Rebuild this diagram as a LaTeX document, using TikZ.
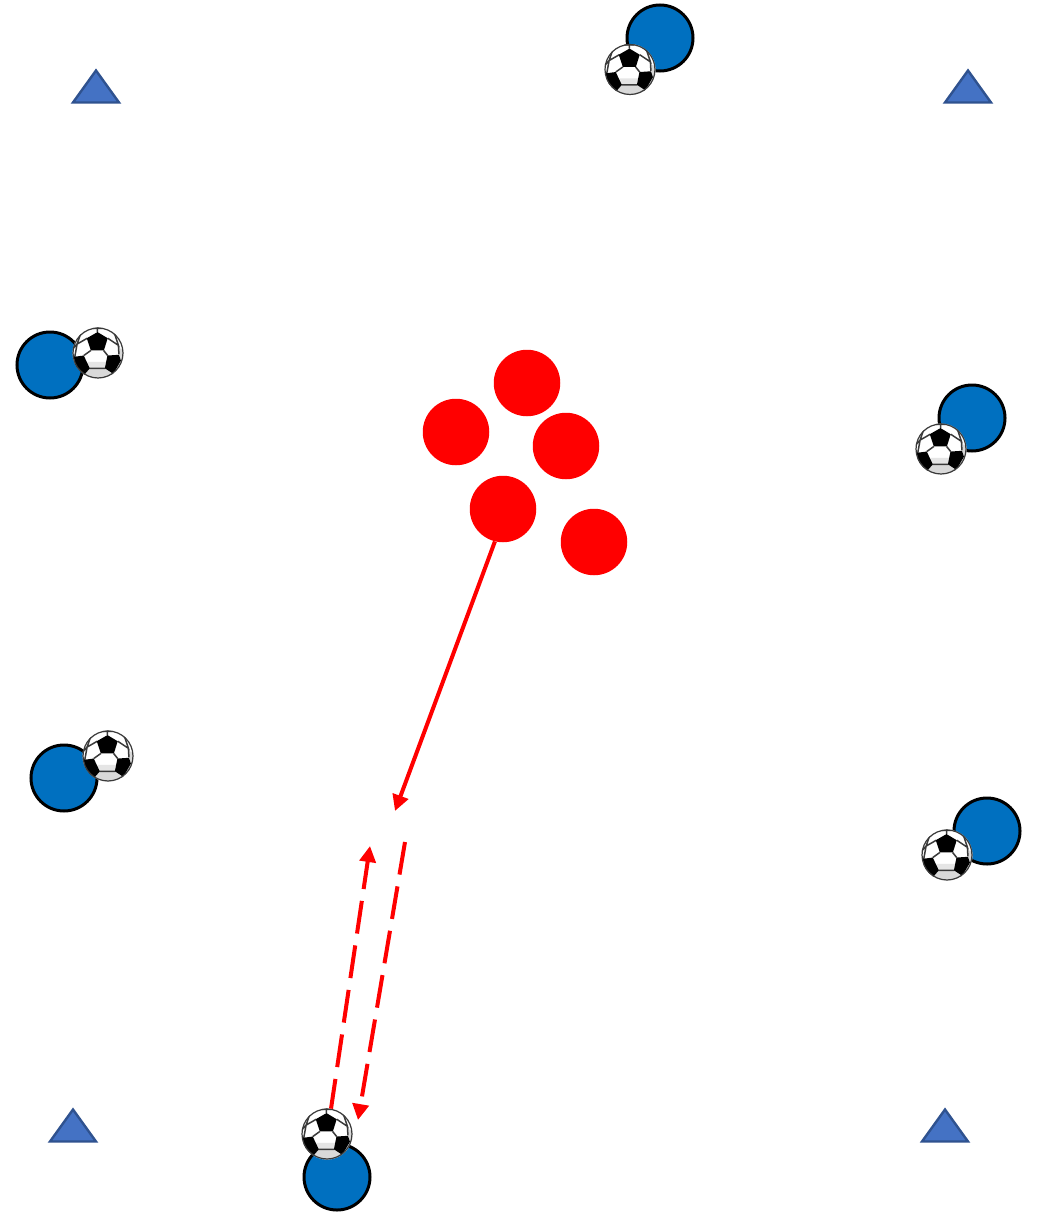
\documentclass[tikz,border=0pt]{standalone}
\usetikzlibrary{arrows.meta}
\definecolor{playerblue}{HTML}{0070C0}
\definecolor{conefill}{HTML}{4472C4}
\definecolor{coneline}{HTML}{2F528F}
\definecolor{ballgrey}{HTML}{D9D9D9}
\definecolor{ballline}{HTML}{3A3A3A}
\tikzset{
  player/.style={circle,draw=black,line width=3pt,fill=playerblue,minimum size=66pt,inner sep=0pt},
  defender/.style={circle,fill=red,minimum size=66.5pt,inner sep=0pt},
  ballspot/.style={circle,minimum size=51pt,inner sep=0pt},
  redarrow/.style={draw=red,line width=4pt,-{Triangle[length=16pt,width=16pt]}},
  reddash/.style={redarrow,dash pattern=on 33pt off 12pt},
  cone/.pic={
    \draw[fill=conefill,draw=coneline,line width=2.4pt,line join=miter]
      (-23,32) -- (0,0) -- (23,32) -- cycle;
  },
  ballpic/.pic={
    \begin{scope}[x=25.5pt,y=-25.5pt]
      \fill[white] (0,0) circle (1);
      \begin{scope}
        \clip (0,0) circle (1);
        \fill[ballgrey] (-0.32,0.6) -- (0.27,0.6) -- (0.58,0.84) -- (0.4,1.1) -- (-0.55,1.1) -- (-0.57,0.84) -- cycle;
        \fill[ballgrey] (0.82,0.05) -- (0.8,-0.2) -- (1.1,-0.1) -- (1.1,0.5) -- (0.62,0.85) -- (0.9,0.3) -- cycle;
        \fill[black!10] (-0.4,0.35) -- (0.32,0.35) -- (0.27,0.6) -- (-0.32,0.6) -- cycle;
        \draw[ballline,line width=1.5pt]
          (-0.02,-0.82) -- (-0.02,-1.05)
          (-0.42,-0.58) -- (-0.82,-0.35) -- (-0.65,-0.85)
          (-0.82,-0.35) -- (-1.05,-0.1)
          (-0.92,0.2) -- (-0.82,-0.35)
          (0.38,-0.58) -- (0.8,-0.3) -- (0.62,-0.85)
          (0.8,-0.3) -- (0.82,0.05)
          (-0.28,-0.1) -- (-0.56,0.1)
          (0.22,-0.1) -- (0.38,0.1)
          (-0.34,0.6) -- (0.29,0.6)
          (-0.57,0.84) -- (-0.5,1.05)
          (0.58,0.8) -- (0.5,1.0);
        \fill[black] (-0.02,-0.82) -- (0.38,-0.58) -- (0.23,-0.1) -- (-0.28,-0.1) -- (-0.44,-0.58) -- cycle;
        \fill[black] (-0.95,0.15) -- (-0.56,0.1) -- (-0.32,0.6) -- (-0.58,0.9) -- (-0.86,0.66) -- cycle;
        \fill[black] (0.37,0.1) -- (0.82,0.07) -- (0.9,0.3) -- (0.6,0.82) -- (0.27,0.6) -- cycle;
        \fill[black!80] (-0.3,-1.05) -- (0.27,-1.05) -- (0.16,-0.94) -- (-0.2,-0.94) -- cycle;
      \end{scope}
      \draw[ballline,line width=1.2pt] (0,0) circle (0.98);
    \end{scope}
  }
}
\newcommand{\placeball}[2]{%
  \node[ballspot] (#1) at (#2) {};
  \pic at (#2) {ballpic};
}
\begin{document}
\begin{tikzpicture}[x=1pt,y=-1pt]
\useasboundingbox (0,0) rectangle (1036,1212);

% cones
\pic (cone1) at (96,70.5) {cone};
\pic (cone2) at (968,70.5) {cone};
\pic (cone3) at (73,1109.5) {cone};
\pic (cone4) at (945,1109.5) {cone};

% defenders
\node[defender] (d1) at (527,383) {};
\node[defender] (d2) at (456,432) {};
\node[defender] (d3) at (566,446) {};
\node[defender] (d4) at (503,509) {};
\node[defender] (d5) at (594,542) {};

% players with balls
\node[player] (p1) at (660,38) {};
\placeball{b1}{630,69.5}
\node[player] (p2) at (50,365) {};
\placeball{b2}{98,353}
\node[player] (p3) at (972,418) {};
\placeball{b3}{941,449}
\node[player] (p4) at (64,778) {};
\placeball{b4}{108,756}
\node[player] (p5) at (987,831) {};
\placeball{b5}{947,855}
\node[player] (p6) at (337,1177) {};
\placeball{b6}{327,1134}

% free ends
\coordinate (runEnd) at (395,811);
\coordinate (passUpEnd) at (370,846);
\coordinate (passDownStart) at (405,842);
\coordinate (passDownEnd) at (358,1120);

% connectors
\draw[redarrow] (d4.256) -- (runEnd);
\draw[reddash,dash phase=3pt] (b6.81) -- (passUpEnd);
\draw[reddash] (passDownStart) -- (passDownEnd);
\end{tikzpicture}
\end{document}
